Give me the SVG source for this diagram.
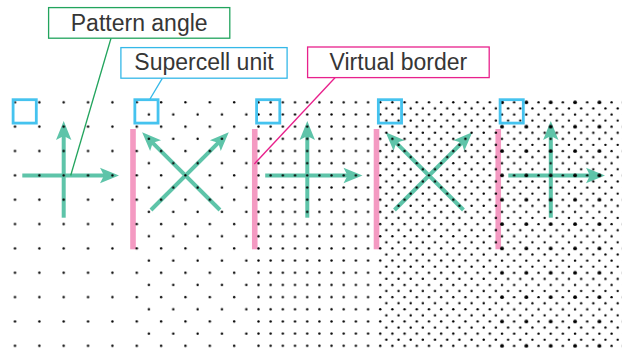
<svg xmlns="http://www.w3.org/2000/svg" width="625" height="349" viewBox="0 0 625 349">
<style>
.lbl{font-family:"Liberation Sans",Arial,sans-serif;font-size:23px;fill:#363636;text-anchor:middle}
.box{fill:#fff;stroke-width:1.3}
.dot{fill:#000}
.arrow{stroke:#5ec4a9;stroke-width:4;fill:none;marker-end:url(#ah)}
.border{fill:#f49ac2}
.cell{fill:none;stroke:#45c3ef;stroke-width:2.8}
.lead{fill:none;stroke-width:1.3}
</style>
<defs>
<marker id="ah" markerUnits="userSpaceOnUse" viewBox="-10 -8 21 16" markerWidth="21" markerHeight="16" refX="0" refY="0" orient="auto" overflow="visible">
<path d="M10,0 L-9,-7.7 L-5,0 L-9,7.7 Z" fill="#5ec4a9"/>
</marker>
<pattern id="p1" patternUnits="userSpaceOnUse" x="2.825" y="90.125" width="24.35" height="24.35">
<circle class="dot" cx="12.175" cy="12.175" r="1.2"/>
</pattern>
<pattern id="p2" patternUnits="userSpaceOnUse" x="130.6625" y="96.2125" width="24.35" height="24.35">
<circle class="dot" cx="6.0875" cy="6.0875" r="1.2"/>
<circle class="dot" cx="18.2625" cy="18.2625" r="1.2"/>
</pattern>
<pattern id="p3" patternUnits="userSpaceOnUse" x="252.4125" y="96.2125" width="12.175" height="12.175">
<circle class="dot" cx="6.0875" cy="6.0875" r="1.2"/>
</pattern>
<pattern id="p4" patternUnits="userSpaceOnUse" x="377.206" y="99.256" width="12.175" height="12.175">
<circle class="dot" cx="3.04375" cy="3.04375" r="1.2"/>
<circle class="dot" cx="9.13125" cy="9.13125" r="1.2"/>
</pattern>
<pattern id="p5" patternUnits="userSpaceOnUse" x="498.956" y="99.256" width="24.35" height="24.35">
<circle class="dot" cx="3.04375" cy="3.04375" r="1.9"/>
<circle class="dot" cx="15.21875" cy="3.04375" r="1.2"/>
<circle class="dot" cx="3.04375" cy="15.21875" r="1.2"/>
<circle class="dot" cx="15.21875" cy="15.21875" r="1.2"/>
<circle class="dot" cx="9.13125" cy="9.13125" r="1.2"/>
<circle class="dot" cx="21.30625" cy="9.13125" r="1.2"/>
<circle class="dot" cx="9.13125" cy="21.30625" r="1.2"/>
<circle class="dot" cx="21.30625" cy="21.30625" r="1.2"/>
</pattern>
</defs>
<rect width="625" height="349" fill="#fff"/>

<g id="virtual-borders">
<rect class="border" x="130.2" y="129" width="5.6" height="120.3"/>
<rect class="border" x="251.95" y="129" width="5.6" height="120.3"/>
<rect class="border" x="373.7" y="129" width="5.6" height="120.3"/>
<rect class="border" x="495.45" y="129" width="5.6" height="120.3"/>
</g>

<g id="section-1">
<line class="arrow" x1="22.3" y1="175.5" x2="109" y2="175.5"/>
<line class="arrow" x1="63.7" y1="217.7" x2="63.7" y2="131"/>
<rect x="0" y="99" width="126" height="250" fill="url(#p1)"/>
<rect class="cell" x="13.1" y="99.7" width="23.2" height="23.4"/>
</g>

<g id="section-2">
<line class="arrow" x1="219.95" y1="210" x2="149.2" y2="139.3"/>
<line class="arrow" x1="150.95" y1="210" x2="221.7" y2="139.3"/>
<rect x="128" y="99" width="124" height="250" fill="url(#p2)"/>
<rect class="cell" x="134.85" y="99.7" width="23.2" height="23.4"/>
</g>

<g id="section-3">
<line class="arrow" x1="265.2" y1="175.5" x2="352.5" y2="175.5"/>
<line class="arrow" x1="307.3" y1="217.7" x2="307.3" y2="131"/>
<rect x="252" y="99" width="124.5" height="250" fill="url(#p3)"/>
<rect class="cell" x="256.6" y="99.7" width="23.2" height="23.4"/>
</g>

<g id="section-4">
<line class="arrow" x1="463.45" y1="210" x2="392.7" y2="139.3"/>
<line class="arrow" x1="394.45" y1="210" x2="465.2" y2="139.3"/>
<rect x="376.5" y="99" width="123" height="250" fill="url(#p4)"/>
<rect class="cell" x="378.35" y="99.7" width="23.2" height="23.4"/>
</g>

<g id="section-5">
<line class="arrow" x1="508.3" y1="175.5" x2="595" y2="175.5"/>
<line class="arrow" x1="550.8" y1="217.7" x2="550.8" y2="131"/>
<rect x="499.5" y="99" width="122" height="250" fill="url(#p5)"/>
<rect class="cell" x="500.1" y="99.7" width="23.2" height="23.4"/>
</g>

<g id="connectors">
<line class="lead" stroke="#22a45d" x1="111" y1="38.3" x2="70.7" y2="175.5"/>
<line class="lead" stroke="#35b8e8" x1="162.3" y1="78.3" x2="150" y2="99"/>
<line class="lead" stroke="#e8218c" x1="335" y1="77.7" x2="254.3" y2="164"/>
</g>

<g id="label-pattern-angle">
<rect class="box" stroke="#22a45d" x="48.6" y="7.6" width="181.2" height="30.6"/>
<text class="lbl" x="139.2" y="30.9">Pattern angle</text>
</g>
<g id="label-supercell-unit">
<rect class="box" stroke="#35b8e8" x="120.9" y="47.6" width="166.2" height="30.6"/>
<text class="lbl" x="204" y="70.3">Supercell unit</text>
</g>
<g id="label-virtual-border">
<rect class="box" stroke="#e8218c" x="307.6" y="47" width="181.6" height="30.6"/>
<text class="lbl" x="398.4" y="70.3">Virtual border</text>
</g>
</svg>
